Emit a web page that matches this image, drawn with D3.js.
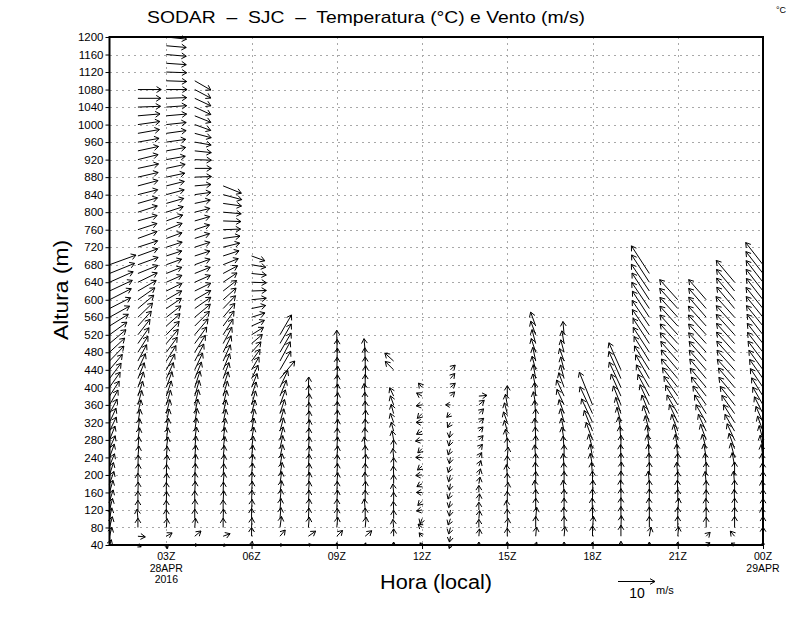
<!DOCTYPE html>
<html><head><meta charset="utf-8">
<script src="https://cdn.jsdelivr.net/npm/d3@7"></script>
<style>
body{margin:0;background:#fff}
svg{display:block}
text{font-family:"Liberation Sans",Arial,sans-serif;fill:#000}
</style>
</head><body>
<svg id="c" width="800" height="618"></svg>
<script>
// ---------- DATA ----------
// hours (local axis, Z), 01 .. 24 (24 = 00Z 29APR)
const hours = [1,2,3,4,5,6,7,8,9,10,11,12,13,14,15,16,17,18,19,20,21,22,23,24];
// levels start at 40 m, step 20 m; each array runs from 40 m upward
const levelBase = 40, levelStep = 20;
// y tick labels (m)
const yTicks = [40,80,120,160,200,240,280,320,360,400,440,480,520,560,600,640,680,720,760,800,840,880,920,960,1000,1040,1080,1120,1160,1200];
// x tick hours and labels
const xTicks = [3,6,9,12,15,18,21,24];
const xTickLabels = [["03Z","28APR","2016"],["06Z"],["09Z"],["12Z"],["15Z"],["18Z"],["21Z"],["00Z","29APR"]];
const vGridHours = [3,6,9,12,15,18,21];
const refSpeed = 10; // m/s reference vector

// direction the arrow points (deg, 0 = up/north, 90 = right/east) and speed (m/s)
const d01 = [20,15,15,12,15, 18,16,20,18,22, 20,24,22,26,25, 28,30,33,35,37, 40,44,47,50,54, 58,61,63,63,65, 66,68,70];
const s01 = [1.5,2.5,3,3,3.2, 3.2,3.4,3.5,3.5,3.6, 3.8,3.8,4,4.2,4.2, 4.4,4.6,4.8,5,5.2, 5.4,5.6,5.6,5.8,5.8, 6,6.2,6.4,6.6,6.8, 7,7.3,7.6];
const d02 = [120,95,0,355,0, 0,2,0,3,2, 5,5,8,8,10, 12,15,18,20,22, 25,28,32,35,38, 42,46,50,55,60, 64,68,70,70,72, 70,72,74,72,74, 76,75,77,78,76, 78,80,80,82,85, 88,90,90];
const s02 = [1,2,2.5,2.6,2.6, 2.7,2.8,2.8,3,3, 3.1,3.2,3.3,3.4,3.6, 3.8,4,4.2,4.4,4.6, 4.8,5,5.1,5.2,5.3, 5.4,5.5,5.6,5.6,5.7, 5.8,5.8,5.8,5.7,5.6, 5.5,5.4,5.4,5.5,5.5, 5.5,5.6,5.6,5.7,5.6, 5.7,5.8,5.9,6,6, 6.1,6.2,6.3];
const d03 = [160,60,5,0,0, 2,0,3,2,5, 5,8,8,10,12, 14,16,18,20,24, 28,32,36,40,44, 48,52,56,60,64, 66,68,70,72,72, 70,68,70,72,74, 75,76,78,78,80, 80,82,82,84,85, 86,88,90,92,92, 94,95,95,96];
const s03 = [1,1.8,2.4,2.5,2.6, 2.6,2.7,2.8,2.8,3, 3,3.2,3.3,3.5,3.7, 3.9,4.1,4.3,4.5,4.7, 4.8,4.9,5,5,5, 5,5,4.9,4.8,4.7, 4.6,4.5,4.4,4.4,4.5, 4.5,4.6,4.7,4.8,4.9, 5,5,5.1,5.2,5.2, 5.3,5.3,5.4,5.4,5.5, 5.5,5.5,5.6,5.5,5.5, 5.4,5.4,5.4,5.5];
const d04 = [90,50,5,0,2, 0,3,2,4,5, 5,6,8,8,10, 12,14,16,18,22, 25,28,32,36,40, 45,50,55,60,64, 66,68,70,72,72, 72,72,74,76,78, 82,85,88,90,92, 96,100,105,110,112, 115,115,118,120];
const s04 = [0.8,2.2,2.5,2.6,2.8, 2.8,3,3,3.1,3.2, 3.3,3.4,3.5,3.6,3.8, 4,4.2,4.4,4.6,4.8, 5,5.2,5.4,5.5,5.6, 5.6,5.5,5.3,5,4.8, 4.6,4.5,4.4,4.3,4.3, 4.2,4.2,4.2,4.2,4.3, 4.4,4.4,4.5,4.5,4.5, 4.5,4.5,4.6,4.6,4.7, 4.8,4.8,4.9,5];
const d05 = [100,70,0,2,0, 3,2,5,4,6, 6,8,8,10,12, 12,14,16,18,20, 22,24,26,28,32, 36,40,44,48,52, 56,62,68,72,76, 82,88,92,95,98, 105,112];
const s05 = [0.8,2,2.5,2.6,2.7, 2.8,2.8,3,3,3.1, 3.2,3.3,3.4,3.5,3.6, 3.8,4,4.2,4.4,4.6, 4.7,4.8,4.9,5,5, 5,4.9,4.8,4.7,4.6, 4.5,4.4,4.4,4.5,4.6, 4.6,4.7,4.8,4.9,5, 5.2,5.3];
const d06 = [10,0,2,0,3, 2,4,3,5,6, 6,8,10,10,12, 14,16,18,22,26, 30,36,42,50,58, 66,72,78,84,88, 92,96,100,110];
const s06 = [1,2.4,2.6,2.8,2.8, 3,3,3.1,3.2,3.2, 3.3,3.4,3.5,3.6,3.7, 3.8,3.9,4,4,4, 4,3.9,3.8,3.8,3.8, 3.8,3.8,3.9,4,4, 4,4,3.9,3.8];
const d07 = [90,40,8,5,5, 6,8,8,10,10, 12,12,14,15,16, 18,20,22,25,40, 30,28,30,30,30];
const s07 = [0.8,2.2,3,3,3.1, 3.2,3.2,3.3,3.4,3.4, 3.5,3.6,3.6,3.7,3.8, 4,4.3,4.6,5,6.2, 5.8,5.9,6,6.1,6.2];
const d08 = [80,55,5,3,5, 4,5,6,5,4, 6,5,4,6,5, 4,5,3,2];
const s08 = [0.8,2.4,2.8,2.9,3, 3,3,3.1,3.1,3.2, 3.1,3.2,3.2,3.1,3.1, 3,3,2.9,2.8];
const d09 = [0,45,5,3,2, 4,3,5,4,3, 5,4,3,5,4, 3,5,4,3,4, 2,3,2,0];
const s09 = [0.6,2.2,2.8,2.8,2.9, 3,3,3,3.1,3.1, 3.1,3.2,3.2,3.2,3.3, 3.3,3.3,3.3,3.4,3.4, 3.4,3.5,3.5,3.6];
const d10 = [10,50,5,0,355, 0,2,358,0,3, 0,355,358,0,2, 0,358,355,0,2, 0,358,355];
const s10 = [0.6,2.3,2.8,2.9,3, 3,3,3.1,3.1,3.2, 3.2,3.2,3.3,3.3,3.3, 3.4,3.4,3.4,3.5,3.5, 3.5,3.6,3.7];
const d11 = [0,0,355,0,358, 0,355,0,358,0, 355,0,350,345,340, 345,340,335,null,null, 315,312];
const s11 = [0.8,2,2.2,2.3,2.3, 2.4,2.3,2.4,2.4,2.3, 2.4,2.4,2.5,2.5,2.6, 2.6,2.6,2.5,null,null, 3.2,3.2];
const d12 = [315,320,310,200,260, 225,270,240,265,230, 270,225,260,240,270, 225,260,300,320];
const s12 = [0.8,1.2,1.4,1.5,1.5, 1.6,1.5,1.6,1.7,1.6, 1.7,1.6,1.8,1.7,1.6, 1.8,1.6,1.7,1.5];
const d13 = [200,190,195,200,190, 195,200,190,195,200, 190,200,195,190,210, 225,270,45,50,40, 45];
const s13 = [1,1.6,1.8,1.8,1.7, 1.8,1.9,1.8,1.9,1.8, 1.7,1.8,1.7,1.8,1.6, 1.4,1.3,1.6,1.7,1.8, 1.8];
const d14 = [0,5,0,5,0, 5,0,10,15,20, 30,40,45,45,50, 45,50,85];
const s14 = [0.8,2,2.2,2.2,2.1, 2,1.9,1.8,1.7,1.6, 1.5,1.5,1.6,1.6,1.7, 1.8,1.9,2.2];
const d15 = [0,0,5,0,355, 0,5,0,355,0, 5,0,350,345,340, 345,350,0];
const s15 = [0.8,2.2,2.5,2.6,2.6, 2.7,2.7,2.8,2.8,2.8, 2.8,2.9,2.9,3,3, 3,2.9,2.8];
const d16 = [20,5,0,5,0, 0,355,0,358,0, 355,0,358,355,0, 355,350,355,348,350, 345,348,342,345,340, 340];
const s16 = [0.8,2.5,3,3.1,3.2, 3.2,3.3,3.3,3.4,3.4, 3.4,3.5,3.5,3.5,3.6, 3.6,3.6,3.7,3.7,3.8, 3.8,3.8,3.9,3.9,3.9, 4];
const d17 = [0,5,0,358,0, 0,355,0,358,355, 0,355,350,348,345, 340,335,335,340,345, 345,340,345,350,355];
const s17 = [0.8,2.6,3,3.1,3.2, 3.2,3.3,3.3,3.3,3.4, 3.4,3.4,3.5,3.6,3.8, 4,4.6,4.8,4.2,3.8, 3.6,3.6,3.5,3.5,3.6];
const d18 = [0,0,5,0,358, 0,2,0,355,350, 350,345,340,338,335, 335,338];
const s18 = [0.8,2.8,3,3.2,3.2, 3.3,3.3,3.4,3.4,3.5, 3.6,4,5,6,7, 8,9.5];
const d19 = [0,0,2,0,0, 0,358,0,2,0, 358,0,355,350,345, 342,338,336,335,336, 336];
const s19 = [1,3,3.2,3.3,3.3, 3.4,3.4,3.4,3.5,3.5, 3.5,3.6,3.7,3.9,4.2, 4.6,5.5,6.5,7.5,8, 8];
const d20 = [0,10,0,0,358, 0,0,355,0,358, 355,352,350,345,340, 338,335,332,330,330, 328,328,327,327,326, 326,327,326,327,326, 327,327];
const s20 = [0.8,2.5,3,3.2,3.2, 3.3,3.3,3.4,3.4,3.5, 3.6,3.8,4,4.3,4.8, 5.4,6,6.6,7,7.4, 7.6,7.8,8,8.1,8.2, 8.3,8.4,8.5,8.6,8.7, 8.8,8.9];
const d21 = [0,5,0,0,5, 0,358,0,355,0, 355,350,345,340,335, 330,328,325,322,320, 320,319,318,318,318, 318,318,318,318];
const s21 = [0.8,2.6,3,3.1,3.2, 3.2,3.3,3.3,3.4,3.5, 3.6,3.9,4.3,4.8,5.3, 5.8,6.2,6.5,6.7,6.9, 7,7,7.1,7.1,7.2, 7.2,7.2,7.3,7.3];
const d22 = [60,45,0,0,358, 0,0,355,0,355, 350,345,340,335,330, 328,325,322,320,320, 319,319,318,318,318, 318,319,319,319];
const s22 = [1.2,1.5,2.8,3,3.1, 3.1,3.2,3.3,3.4,3.5, 3.7,4,4.5,5,5.5, 5.9,6.2,6.5,6.7,6.9, 7,7,7.1,7.1,7.2, 7.2,7.2,7.2,7.2];
const d23 = [300,320,0,0,0, 358,0,355,0,350, 345,340,335,330,328, 325,322,320,320,318, 318,318,318,318,318, 318,318,320,320,320, 320];
const s23 = [1,1.8,3,3.1,3.2, 3.2,3.3,3.4,3.5,3.7, 4,4.4,4.8,5.2,5.6, 6,6.3,6.6,6.8,7, 7.1,7.2,7.3,7.3,7.4, 7.4,7.5,7.5,7.6,7.6, 7.7];
const d24 = [0,0,0,355,0, 0,355,0,358,355, 352,348,345,340,336, 333,330,328,326,325, 324,323,322,322,322, 321,321,321,322,322, 322,322,322];
const s24 = [0.8,2.5,3,3,3.1, 3.2,3.2,3.3,3.3,3.4, 3.5,3.7,4,4.3,4.7, 5.1,5.5,5.8,6.1,6.3, 6.5,6.7,6.8,6.9,7, 7.1,7.2,7.3,7.3,7.4, 7.4,7.5,7.6];

const dirs = [d01,d02,d03,d04,d05,d06,d07,d08,d09,d10,d11,d12,d13,d14,d15,d16,d17,d18,d19,d20,d21,d22,d23,d24];
const spds = [s01,s02,s03,s04,s05,s06,s07,s08,s09,s10,s11,s12,s13,s14,s15,s16,s17,s18,s19,s20,s21,s22,s23,s24];

// ---------- DRAWING ----------
const L = 109.5, R = 763, T = 37, B = 545;
const svg = d3.select("#c");
const x = d3.scaleLinear().domain([1,24]).range([L,R]);
const y = d3.scaleLinear().domain([40,1200]).range([B,T]);
const vlen = d3.scaleLinear().domain([0,refSpeed]).range([0,37]);

// flatten records
const recs = [];
hours.forEach((h,i)=>{
  dirs[i].forEach((d,j)=>{
    const s = spds[i][j];
    if (d === null || s === null) return;
    recs.push({hour:h, level: levelBase + j*levelStep, dir:d, spd:s});
  });
});

// grid
const grid = svg.append("g").attr("stroke","#a8a8a8").attr("stroke-width",1).attr("stroke-dasharray","2,4").attr("shape-rendering","crispEdges");
grid.selectAll("line.h").data(yTicks.filter(v=>v>40 && v<1200)).join("line").attr("class","h")
  .attr("x1",L).attr("x2",R).attr("y1",d=>Math.round(y(d))+0.5).attr("y2",d=>Math.round(y(d))+0.5);
grid.selectAll("line.v").data(vGridHours).join("line").attr("class","v")
  .attr("y1",T).attr("y2",B).attr("x1",d=>Math.round(x(d))+0.5).attr("x2",d=>Math.round(x(d))+0.5);

// arrow path
function arrowPath(r){
  const a = r.dir*Math.PI/180;
  const l = vlen(r.spd);
  const x0 = x(r.hour), y0 = y(r.level);
  const x1 = x0 + l*Math.sin(a), y1 = y0 - l*Math.cos(a);
  const sa = Math.atan2(y1-y0, x1-x0);
  const hl = Math.min(5.5, Math.max(2, l*1.0));
  const w = 32*Math.PI/180;
  const wx1 = x1 - hl*Math.cos(sa-w), wy1 = y1 - hl*Math.sin(sa-w);
  const wx2 = x1 - hl*Math.cos(sa+w), wy2 = y1 - hl*Math.sin(sa+w);
  return `M${x0},${y0}L${x1},${y1}M${wx1},${wy1}L${x1},${y1}L${wx2},${wy2}`;
}
svg.append("g").attr("fill","none").attr("stroke","#000").attr("stroke-width",1)
  .selectAll("path").data(recs).join("path").attr("d",arrowPath);

// axes
const yAxis = d3.axisLeft(y).tickValues(yTicks).tickSize(4).tickPadding(2).tickFormat(d3.format("d"));
const gy = svg.append("g").attr("transform",`translate(${L},0)`).call(yAxis);
gy.select(".domain").remove();
gy.selectAll("text").attr("font-size",11.5).attr("font-family","Liberation Sans, Arial, sans-serif").attr("fill","#000");
gy.selectAll("line").attr("stroke","#000");

const xAxis = d3.axisBottom(x).tickValues(xTicks).tickSize(4).tickFormat("");
const gx = svg.append("g").attr("transform",`translate(0,${B})`).call(xAxis);
gx.select(".domain").remove();
gx.selectAll("line").attr("stroke","#000");
const xl = svg.append("g").attr("font-size",10.5).attr("text-anchor","middle");
xTicks.forEach((h,i)=>{
  const t = xl.append("text").attr("x",x(h)).attr("y",560);
  xTickLabels[i].forEach((s,k)=>{
    t.append("tspan").attr("x",x(h)).attr("y",560+k*11.5).text(s);
  });
});

// frame
svg.append("rect").attr("x",L).attr("y",T).attr("width",R-L).attr("height",B-T)
  .attr("fill","none").attr("stroke","#000").attr("stroke-width",2);

// titles
svg.append("text").attr("x",147).attr("y",23).attr("font-size",16.5)
  .attr("textLength",438).attr("lengthAdjust","spacingAndGlyphs").style("white-space","pre")
  .text("SODAR  \u2013  SJC  \u2013  Temperatura (\u00B0C) e Vento (m/s)");
svg.append("text").attr("x",776).attr("y",13).attr("font-size",9).text("\u00B0C");
svg.append("text").attr("transform","translate(68,290) rotate(-90)").attr("text-anchor","middle")
  .attr("font-size",20).attr("textLength",100).attr("lengthAdjust","spacingAndGlyphs").text("Altura (m)");
svg.append("text").attr("x",436).attr("y",589).attr("text-anchor","middle")
  .attr("font-size",20).attr("textLength",112).attr("lengthAdjust","spacingAndGlyphs").text("Hora (local)");

// reference vector
const refRec = {dir:90, spd:refSpeed};
const rx0 = 618, ry0 = 581.5;
const rx1 = rx0 + vlen(refRec.spd);
svg.append("path").attr("fill","none").attr("stroke","#000").attr("stroke-width",1)
  .attr("d",`M${rx0},${ry0}L${rx1},${ry0}M${rx1-5},${ry0-2.8}L${rx1},${ry0}L${rx1-5},${ry0+2.8}`);
svg.append("text").attr("x",637).attr("y",598).attr("text-anchor","middle").attr("font-size",14).text("10");
svg.append("text").attr("x",656).attr("y",594).attr("font-size",11).text("m/s");
</script>
</body></html>
